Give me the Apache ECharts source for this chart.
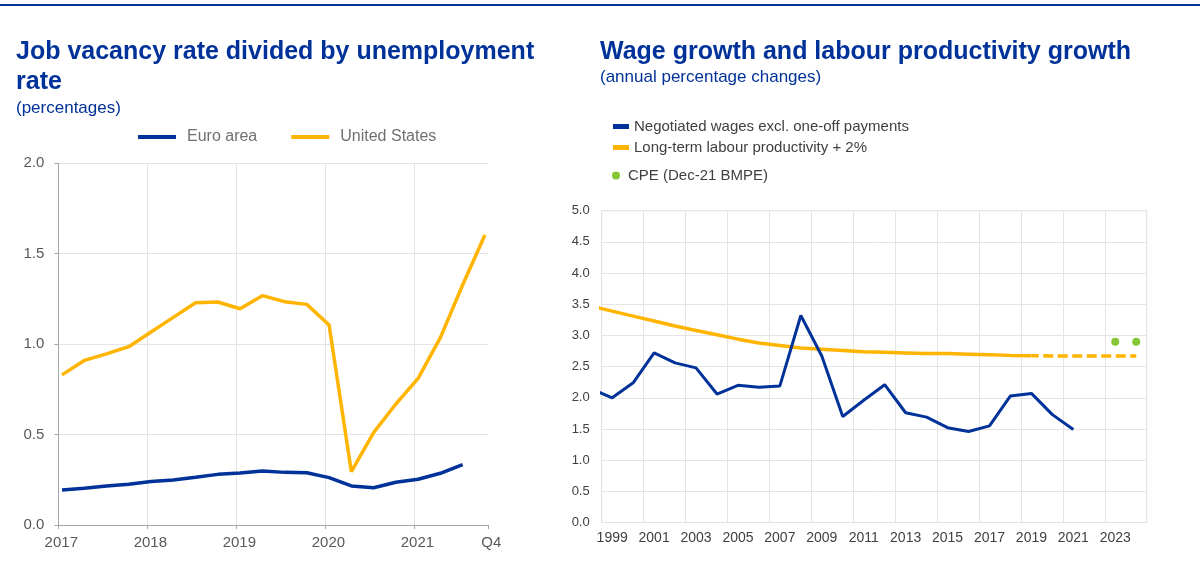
<!DOCTYPE html>
<html>
<head>
<meta charset="utf-8">
<script src="https://cdn.jsdelivr.net/npm/echarts@6/dist/echarts.min.js"></script>
<style>
  html, body { margin: 0; padding: 0; background: #fff; }
  #chart { width: 1200px; height: 584px; }
</style>
</head>
<body>
<div id="chart"></div>
<script>
// ---- Left panel: job vacancy rate / unemployment rate, quarterly ----
const quarters = [
  '2017Q1','2017Q2','2017Q3','2017Q4',
  '2018Q1','2018Q2','2018Q3','2018Q4',
  '2019Q1','2019Q2','2019Q3','2019Q4',
  '2020Q1','2020Q2','2020Q3','2020Q4',
  '2021Q1','2021Q2','2021Q3','2021Q4'
];
const euroArea = [0.194, 0.203, 0.216, 0.225, 0.240, 0.249, 0.264, 0.280, 0.288, 0.299,
                  0.291, 0.289, 0.262, 0.216, 0.206, 0.236, 0.253, 0.286, 0.334];
const unitedStates = [0.83, 0.91, 0.946, 0.986, 1.067, 1.148, 1.229, 1.233, 1.196, 1.268,
                      1.235, 1.220, 1.106, 0.295, 0.511, 0.669, 0.811, 1.036, 1.327, 1.604];
const lastQuarterLabel = 'Q4';

// ---- Right panel: wage growth vs labour productivity growth, annual ----
const axisYears = ['1999','2000','2001','2002','2003','2004','2005','2006','2007','2008',
                   '2009','2010','2011','2012','2013','2014','2015','2016','2017','2018',
                   '2019','2020','2021','2022','2023','2024'];
const wageYears = [1998, 1999, 2000, 2001, 2002, 2003, 2004, 2005, 2006, 2007, 2008, 2009,
                   2010, 2011, 2012, 2013, 2014, 2015, 2016, 2017, 2018, 2019, 2020, 2021];
const negotiatedWages = [2.14, 2.00, 2.24, 2.72, 2.56, 2.48, 2.06, 2.20, 2.17, 2.19, 3.32, 2.67,
                         1.70, 1.96, 2.21, 1.76, 1.69, 1.52, 1.46, 1.55, 2.03, 2.07, 1.73, 1.49];
const productivityYears = [1998, 1999, 2000, 2001, 2002, 2003, 2004, 2005, 2006, 2007, 2008,
                           2009, 2010, 2011, 2012, 2013, 2014, 2015, 2016, 2017, 2018, 2019];
const productivityPlus2 = [3.47, 3.39, 3.31, 3.23, 3.15, 3.08, 3.01, 2.94, 2.88, 2.84, 2.80,
                           2.78, 2.76, 2.74, 2.73, 2.72, 2.71, 2.71, 2.70, 2.69, 2.68, 2.675];
const outlookYears = [2019, 2020, 2021, 2022, 2023, 2024];
const productivityOutlook = [2.675, 2.67, 2.67, 2.67, 2.67, 2.67];
const cpeYears = [2023, 2024];
const cpeValues = [2.9, 2.9];

// Colours
const ECB_BLUE = '#003299';
const ECB_YELLOW = '#ffb400';
const ECB_GREEN = '#65b800';
const FONT = '"Liberation Sans", Arial, sans-serif';

// Quarter label -> fractional year, plotted at the middle of the quarter's first month
function quarterToYear(q) {
  const year = parseInt(q.slice(0, 4), 10);
  const n = parseInt(q.slice(5), 10);
  return year + (n - 1) / 4 + 1 / 24;
}
const pairs = (xs, ys) => ys.map((v, i) => [xs[i], v]);

const euroData = pairs(quarters.map(quarterToYear), euroArea);
const usData = pairs(quarters.map(quarterToYear), unitedStates);

const chart = echarts.init(document.getElementById('chart'), null, { renderer: 'canvas' });

const leftMin = 2017;
const leftMax = 2021.83;

const titleStyle = { color: ECB_BLUE, fontSize: 25, fontWeight: 'bold', lineHeight: 30, fontFamily: FONT };
const subtitleStyle = { color: ECB_BLUE, fontSize: 17, fontWeight: 'normal', lineHeight: 18, fontFamily: FONT };

chart.setOption({
  animation: false,
  backgroundColor: '#ffffff',
  textStyle: { fontFamily: FONT },
  graphic: [
    { type: 'rect', left: 0, top: 4, shape: { width: 1200, height: 2 }, style: { fill: ECB_BLUE }, silent: true }
  ],
  title: [
    {
      text: 'Job vacancy rate divided by unemployment\nrate',
      subtext: '(percentages)',
      left: 16, top: 37, itemGap: 2, padding: 0,
      textStyle: titleStyle,
      subtextStyle: subtitleStyle
    },
    {
      text: 'Wage growth and labour productivity growth',
      subtext: '(annual percentage changes)',
      left: 600, top: 37, itemGap: 1, padding: 0,
      textStyle: titleStyle,
      subtextStyle: subtitleStyle
    }
  ],
  legend: [
    {
      data: ['Euro area', 'United States'],
      left: 138, top: 129, padding: 0,
      icon: 'rect', itemWidth: 38, itemHeight: 4, itemGap: 34,
      selectedMode: false,
      textStyle: { color: '#707070', fontSize: 16, fontFamily: FONT, padding: [0, 0, 0, 6] }
    },
    {
      data: ['Negotiated wages excl. one-off payments', 'Long-term labour productivity + 2%'],
      orient: 'vertical', left: 613, top: 119, padding: 0,
      icon: 'rect', itemWidth: 16, itemHeight: 5, itemGap: 6,
      selectedMode: false,
      textStyle: { color: '#404040', fontSize: 15, fontFamily: FONT }
    },
    {
      data: ['CPE (Dec-21 BMPE)'],
      orient: 'vertical', left: 612, top: 168, padding: 0,
      icon: 'circle', itemWidth: 14, itemHeight: 8,
      selectedMode: false,
      textStyle: { color: '#404040', fontSize: 15, fontFamily: FONT }
    }
  ],
  grid: [
    { left: 58.3, right: 711.7, top: 163.3, bottom: 59, outerBoundsMode: 'none' },
    { left: 601.7, right: 53.3, top: 210.7, bottom: 61.5, outerBoundsMode: 'none',
      show: true, borderColor: '#e4e4e4', borderWidth: 1, backgroundColor: 'transparent' }
  ],
  xAxis: [
    {
      type: 'value', gridIndex: 0, min: leftMin, max: leftMax, interval: 1,
      axisLine: { show: true, lineStyle: { color: '#a6a6a6', width: 1 } },
      axisTick: { show: true, length: 4, lineStyle: { color: '#a6a6a6' } },
      splitLine: { show: true, showMaxLine: false, lineStyle: { color: '#e4e4e4', width: 1 } },
      axisLabel: {
        color: '#595959', fontSize: 15, margin: 10, padding: [0, 0, 0, 6],
        showMaxLabel: true, showMinLabel: true,
        formatter: v => (Math.abs(v - Math.round(v)) < 1e-6 ? String(Math.round(v)) : lastQuarterLabel)
      }
    },
    {
      type: 'category', gridIndex: 1, data: axisYears, boundaryGap: true,
      axisLine: { show: false },
      axisTick: { show: false },
      splitLine: { show: true, interval: 1, lineStyle: { color: '#e4e4e4', width: 1 } },
      axisLabel: { color: '#404040', fontSize: 14, margin: 9, interval: 1 }
    },
    {
      type: 'value', gridIndex: 1, min: 1998.5, max: 2024.5, show: false,
      splitLine: { show: false }
    }
  ],
  yAxis: [
    {
      type: 'value', gridIndex: 0, min: 0, max: 2, interval: 0.5,
      axisLine: { show: true, lineStyle: { color: '#a6a6a6', width: 1 } },
      axisTick: { show: true, length: 4, lineStyle: { color: '#a6a6a6' } },
      splitLine: { show: true, lineStyle: { color: '#e4e4e4', width: 1 } },
      axisLabel: { color: '#595959', fontSize: 15, margin: 14, formatter: v => v.toFixed(1) }
    },
    {
      type: 'value', gridIndex: 1, min: 0, max: 5, interval: 0.5,
      axisLine: { show: false },
      axisTick: { show: false },
      splitLine: { show: true, lineStyle: { color: '#e4e4e4', width: 1 } },
      axisLabel: { color: '#404040', fontSize: 13, margin: 12, formatter: v => v.toFixed(1) }
    }
  ],
  series: [
    {
      name: 'Euro area', type: 'line', xAxisIndex: 0, yAxisIndex: 0,
      data: euroData, symbol: 'none', color: ECB_BLUE,
      lineStyle: { color: ECB_BLUE, width: 3.5 }, z: 3
    },
    {
      name: 'United States', type: 'line', xAxisIndex: 0, yAxisIndex: 0,
      data: usData, symbol: 'none', color: ECB_YELLOW,
      lineStyle: { color: ECB_YELLOW, width: 3.5 }, z: 2
    },
    {
      name: 'Negotiated wages excl. one-off payments', type: 'line', xAxisIndex: 2, yAxisIndex: 1,
      data: pairs(wageYears, negotiatedWages), symbol: 'none', color: ECB_BLUE,
      lineStyle: { color: ECB_BLUE, width: 3 }, z: 3
    },
    {
      name: 'Long-term labour productivity + 2%', type: 'line', xAxisIndex: 2, yAxisIndex: 1,
      data: pairs(productivityYears, productivityPlus2), symbol: 'none', color: ECB_YELLOW,
      lineStyle: { color: ECB_YELLOW, width: 3.5 }, z: 2
    },
    {
      name: 'Long-term labour productivity + 2%', type: 'line', xAxisIndex: 2, yAxisIndex: 1,
      data: pairs(outlookYears, productivityOutlook), symbol: 'none', color: ECB_YELLOW,
      lineStyle: { color: ECB_YELLOW, width: 3.5, type: [10, 4.5], dashOffset: 2.7 }, z: 2
    },
    {
      name: 'CPE (Dec-21 BMPE)', type: 'scatter', xAxisIndex: 2, yAxisIndex: 1,
      data: pairs(cpeYears, cpeValues), symbol: 'circle', symbolSize: 8,
      itemStyle: { color: ECB_GREEN }, color: ECB_GREEN, z: 4
    }
  ]
});
</script>
</body>
</html>
